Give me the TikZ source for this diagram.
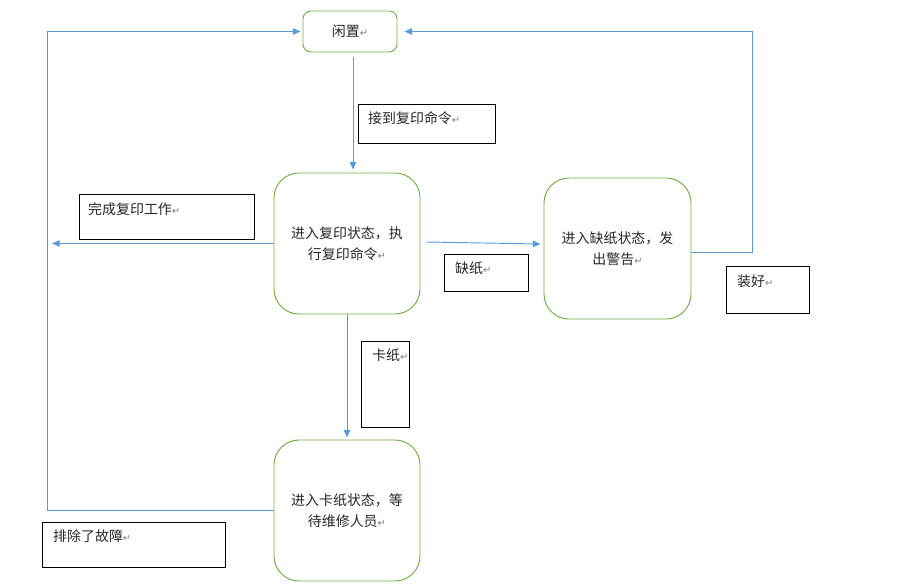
\documentclass[tikz,border=0pt]{standalone}
\usepackage{fontspec}
\usepackage{xcolor}
\usetikzlibrary{arrows.meta}
\newfontfamily\cjk{Noto Sans CJK SC}
\newfontfamily\symfont{DejaVu Sans}
\definecolor{flowblue}{HTML}{5B9BD5}
\definecolor{stategreen}{HTML}{70AD47}
\newcommand{\retmark}{{\symfont\color{black!50}\fontsize{8.5}{8.5}\selectfont ↵}}

\begin{document}
\begin{tikzpicture}[x=0.03cm, y=-0.03cm,
    state/.style={draw=stategreen, line width=0.8pt, rounded corners=0.75cm,
        minimum width=4.38cm, minimum height=4.23cm, align=center, text=black!85,
        font=\cjk\fontsize{11.9}{18}\selectfont},
    notebox/.style={draw=black, line width=0.8pt, anchor=north west, inner sep=0pt},
    notetext/.style={anchor=west, inner sep=0pt, text=black!85, font=\cjk\fontsize{11.9}{18}\selectfont},
    flow/.style={draw=flowblue, line width=0.8pt, -{Triangle[length=6.5pt,width=5.5pt]}}]
        \useasboundingbox (0,0) rectangle (902,585);

        % states
        \node[state, rounded corners=0.24cm, minimum width=2.82cm, minimum height=1.23cm] (idle) at (350,31.5) {闲置\retmark};
        \node[state] (copy) at (347,243.5) {进入复印状态，执\\行复印命令\retmark};
        \node[state, minimum width=4.41cm] (nopaper) at (617.5,248.5) {进入缺纸状态，发\\出警告\retmark};
        \node[state] (jam) at (347,510.5) {进入卡纸状态，等\\待维修人员\retmark};

        % label boxes
        \node[notebox, minimum width=4.11cm, minimum height=1.17cm] (cmdbox) at (358,104) {};
        \node[notebox, minimum width=5.25cm, minimum height=1.35cm] (donebox) at (79,194) {};
        \node[notebox, minimum width=2.52cm, minimum height=1.11cm] (lackbox) at (444,254) {};
        \node[notebox, minimum width=2.49cm, minimum height=1.41cm] (fillbox) at (726,266) {};
        \node[notebox, minimum width=1.44cm, minimum height=2.58cm] (jambox) at (361,341) {};
        \node[notebox, minimum width=5.49cm, minimum height=1.35cm] (fixbox) at (42,522) {};

        \node[notetext] (cmdtext) at ([shift={(10,14)}]cmdbox.north west) {接到复印命令\retmark};
        \node[notetext] (donetext) at ([shift={(9,15)}]donebox.north west) {完成复印工作\retmark};
        \node[notetext] (lacktext) at ([shift={(11,14)}]lackbox.north west) {缺纸\retmark};
        \node[notetext] (filltext) at ([shift={(11,15)}]fillbox.north west) {装好\retmark};
        \node[notetext] (jamtext) at ([shift={(11,14)}]jambox.north west) {卡纸\retmark};
        \node[notetext] (fixtext) at ([shift={(11,14)}]fixbox.north west) {排除了故障\retmark};

        % connectors
        \coordinate (doneend) at (52,243.5);
        \draw[flow] ([shift={(3,5)}]idle.south) -- ([shift={(6,-3)}]copy.north);
        \draw[flow] (copy.west) -- (doneend);
        \draw[flow] ([shift={(6,-1.5)}]copy.east) -- ([shift={(-3,-4.5)}]nopaper.west);
        \draw[flow] (copy.south) -- ([shift={(0,-2)}]jam.north);
        \draw[flow] (jam.west) -- ++(-226,0) |- ([shift={(-2,0)}]idle.west);
        \draw[flow] ([shift={(0,3.5)}]nopaper.east) -- ++(61,0) |- ([shift={(7,0)}]idle.east);
    \end{tikzpicture}
\end{document}
